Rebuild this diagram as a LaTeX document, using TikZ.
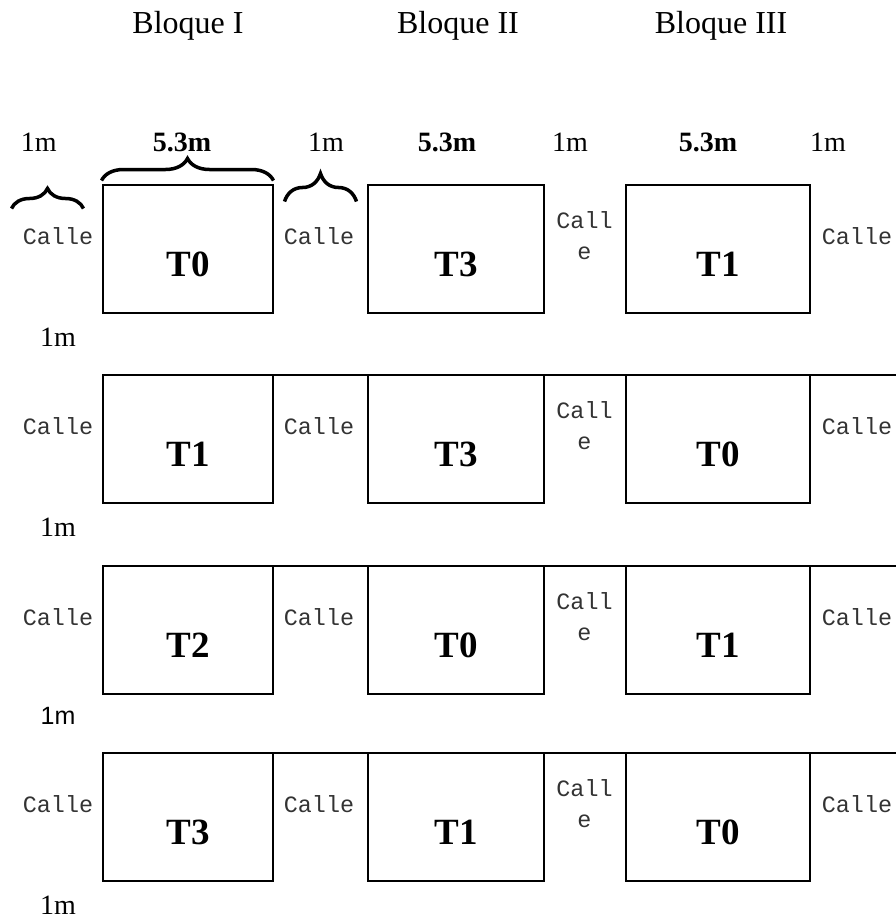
\documentclass[tikz,border=0pt]{standalone}
\usepackage{fontspec}
\setmainfont{Liberation Serif}
\newfontfamily\monof{Liberation Mono}
\newfontfamily\sansf{Liberation Sans}
\usetikzlibrary{decorations.pathreplacing}
\begin{document}
\begin{tikzpicture}[x=1pt,y=-1pt,
  lot/.style={draw, line width=2.6pt, inner sep=0pt, outer sep=0pt, minimum height=128pt},
  tlab/.style={font=\fontsize{37}{40}\selectfont\bfseries, inner sep=0pt},
  calle/.style={font=\monof\fontsize{23.4}{28}\selectfont, text=black!80, inner sep=0pt},
  dimlab/.style={font=\fontsize{28}{32}\selectfont, inner sep=0pt},
  dimbold/.style={font=\fontsize{28}{32}\selectfont\bfseries, inner sep=0pt},
  bloque/.style={font=\fontsize{32}{36}\selectfont, inner sep=0pt, anchor=base},
  llave/.style={draw, line width=3.5pt, decorate},
  street/.style={draw, line width=2.6pt}
]
\useasboundingbox (0,0) rectangle (896,921);

% block titles
\node[bloque] (bq1) at (188,33) {Bloque I};
\node[bloque] (bq2) at (458,33) {Bloque II};
\node[bloque] (bq3) at (721,33) {Bloque III};

% top dimensions
\node[dimlab]  (d1) at (38.7,142.5) {1m};
\node[dimbold] (d2) at (182,142.5) {5.3m};
\node[dimlab]  (d3) at (326,142.5) {1m};
\node[dimbold] (d4) at (447,142.5) {5.3m};
\node[dimlab]  (d5) at (570,142.5) {1m};
\node[dimbold] (d6) at (708,142.5) {5.3m};
\node[dimlab]  (d7) at (828,142.5) {1m};

% braces
\coordinate (ba1) at (11.5,208.5); \coordinate (ba2) at (83.5,208.5);
\coordinate (bb1) at (101.5,180.5); \coordinate (bb2) at (273.5,180.5);
\coordinate (bc1) at (284.5,201.5); \coordinate (bc2) at (356.5,201.5);
\draw[llave, decoration={brace, amplitude=20pt}] (ba1) -- (ba2);
\draw[llave, decoration={brace, amplitude=22pt}] (bb1) -- (bb2);
\draw[llave, decoration={brace, amplitude=28pt}] (bc1) -- (bc2);

\coordinate (fin) at (896,0);

\foreach \r/\t/\a/\b/\c in {1/185/T0/T3/T1, 2/375/T1/T3/T0, 3/566/T2/T0/T1, 4/753/T3/T1/T0}{
  \node[lot, minimum width=170pt] (b\r a) at (188,\t+64) {};
  \node[lot, minimum width=176pt] (b\r b) at (456,\t+64) {};
  \node[lot, minimum width=184pt] (b\r c) at (718,\t+64) {};
  \node[tlab] (t\r a) at ([yshift=-15.5pt]b\r a.center) {\a};
  \node[tlab] (t\r b) at ([yshift=-15.5pt]b\r b.center) {\b};
  \node[tlab] (t\r c) at ([yshift=-15.5pt]b\r c.center) {\c};
  \node[calle] (cl\r) at (58,\t+51) {Calle};
  \node[calle] (cm\r) at (319,\t+51) {Calle};
  \node[calle] (ca\r) at (584.5,\t+35) {Call};
  \node[calle] (cb\r) at (584.5,\t+68) {e};
  \node[calle] (cr\r) at (857,\t+51) {Calle};
}

% continuous top lines of rows 2-4
\draw[street] (b2a.north west) -- (b2a.north west -| fin);
\draw[street] (b3a.north west) -- (b3a.north west -| fin);
\draw[street] (b4a.north west) -- (b4a.north west -| fin);

% left dimensions between rows
\node[dimlab] (m1) at (58,337) {1m};
\node[dimlab] (m2) at (58,527) {1m};
\node[font=\sansf\fontsize{25}{30}\selectfont, inner sep=0pt] (m3) at (58,716) {1m};
\node[dimlab] (m4) at (58,905) {1m};
\end{tikzpicture}
\end{document}
